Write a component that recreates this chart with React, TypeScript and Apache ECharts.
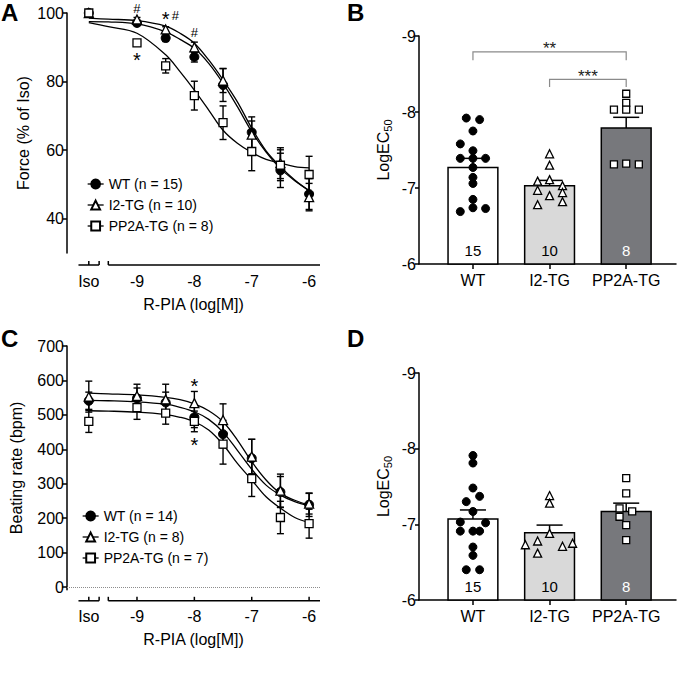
import React, { useEffect, useRef } from 'react';
import * as echarts from 'echarts';

const FONT = '"Liberation Sans", Arial, Helvetica, sans-serif';
const BLACK = '#000000';

// ---------- shared ----------
const GROUPS = ['WT', 'I2-TG', 'PP2A-TG'];
const ISO_X = -9.84;
const DOSES = [ISO_X, -9, -8.5, -8, -7.5, -7, -6.5, -6];
const X_TICKS = [ISO_X, -9, -8, -7, -6];
const X_TICK_LABELS = ['Iso', '-9', '-8', '-7', '-6'];
const X_SEGMENTS = [[-10.02, -9.66], [-9.5, -5.81]];
const CURVE_X = [-9.84, -9.5, -9, -8.5, -8.25, -8, -7.75, -7.5, -7.25, -7, -6.75, -6.5, -6.25, -6];

// ---------- panel A : force ----------
const A_LEGEND = ['WT (n = 15)', 'I2-TG (n = 10)', 'PP2A-TG (n = 8)'];
const A_WT_MEAN = [100, 97.1, 92.7, 87.2, 79.0, 65.2, 54.1, 47.2];
const A_WT_SEM = [0, 0.8, 1.0, 1.5, 4.8, 4.5, 5.0, 4.5];
const A_I2_MEAN = [100, 98.1, 95.2, 90.0, 80.3, 64.5, 56.2, 46.3];
const A_I2_SEM = [0, 0.6, 0.8, 1.5, 3.5, 4.0, 4.5, 4.0];
const A_PP_MEAN = [100, 91.3, 84.6, 75.9, 68.0, 59.6, 55.6, 52.9];
const A_PP_SEM = [0, 0.8, 2.1, 4.2, 4.9, 5.6, 4.5, 5.3];
const A_WT_FIT = [97.5, 97.4, 96.8, 94.5, 92.3, 89.7, 85.3, 79.5, 72.7, 65.4, 59.4, 54.6, 51.1, 48.2];
const A_I2_FIT = [98.5, 98.2, 97.8, 96.2, 94.1, 91.2, 86.3, 80.5, 74.1, 66.4, 59.8, 55.2, 51.3, 48.2];
const A_PP_FIT = [97.2, 96.0, 94.1, 87.8, 82.9, 77.5, 71.7, 65.8, 62.0, 59.3, 57.3, 56.2, 55.2, 54.8];
const A_MARKS = [
  { x: -9, y: 101.4, text: '#' },
  { x: -8.5, y: 99.6, text: '*' },
  { x: -8.33, y: 99.4, text: '#' },
  { x: -8, y: 94.3, text: '#' },
  { x: -9, y: 87.7, text: '*' },
];
const A_Y_MIN = 30;
const A_Y_MAX = 100;
const A_Y_TICKS = [40, 60, 80, 100];
const A_X_TICKS = [ISO_X, -9.66, -9.5];

// ---------- panel C : beating rate ----------
const C_LEGEND = ['WT (n = 14)', 'I2-TG (n = 8)', 'PP2A-TG (n = 7)'];
const C_WT_MEAN = [541, 548, 536, 493, 444, 374, 276, 239];
const C_WT_SEM = [25, 30, 30, 30, 40, 55, 45, 34];
const C_I2_MEAN = [553, 555, 545, 534, 485, 379, 280, 242];
const C_I2_SEM = [45, 34, 44, 34, 47, 50, 48, 30];
const C_PP_MEAN = [481, 521, 505, 481, 415, 315, 202, 184];
const C_PP_SEM = [32, 34, 32, 30, 58, 52, 47, 42];
const C_WT_FIT = [542, 541, 538, 531, 522, 509, 487, 450, 397, 342, 296, 267, 248, 236];
const C_I2_FIT = [563, 561, 558, 551, 544, 532, 512, 480, 427, 364, 311, 272, 252, 238];
const C_PP_FIT = [512, 511, 508, 501, 493, 480, 456, 414, 359, 311, 262, 229, 202, 187];
const C_MARKS = [
  { x: -8, y: 598, text: '*' },
  { x: -8, y: 427, text: '*' },
];
const C_Y_MIN = -8;
const C_Y_MAX = 700;
const C_Y_TICKS = [0, 100, 200, 300, 400, 500, 600, 700];
const C_X_TICKS = [ISO_X, -9.66, -9.5, -9, -8, -7, -6];

// ---------- panel B : LogEC50 force ----------
const B_MEAN = [-7.27, -7.03, -7.79];
const B_SEM = [0.12, 0.07, 0.14];
const B_N = ['15', '10', '8'];
const B_WT_PTS = [
  [-0.087, -7.92], [0.087, -7.9], [0, -7.75], [-0.165, -7.58], [0, -7.49],
  [-0.165, -7.39], [0, -7.39], [0.165, -7.39], [0, -7.27], [0, -7.14],
  [0, -7.06], [0, -6.85], [0, -6.74], [0.165, -6.73], [-0.165, -6.69],
];
const B_I2_PTS = [
  [0, -7.45], [0, -7.3], [-0.156, -7.09], [0, -7.11], [0.169, -7.03],
  [-0.156, -6.97], [0, -6.9], [0.169, -6.94], [-0.156, -6.78], [0.169, -6.82],
];
const B_PP_PTS = [
  [0, -8.24], [0, -8.12], [-0.16, -8.03], [0, -8.03], [0.165, -8.03],
  [-0.16, -7.31], [0, -7.32], [0.165, -7.31],
];
const B_BRACKETS = [
  { from: 0, to: 2, y: -8.79, drop: -8.68, label: '**' },
  { from: 1, to: 2, y: -8.43, drop: -8.33, label: '***' },
];

// ---------- panel D : LogEC50 beating rate ----------
const D_MEAN = [-7.07, -6.89, -7.17];
const D_SEM = [0.12, 0.1, 0.11];
const D_N = ['15', '10', '8'];
const D_WT_PTS = [
  [0, -7.91], [0, -7.81], [0, -7.48], [-0.087, -7.3], [0.087, -7.37],
  [0, -7.17], [-0.165, -7.03], [0.165, -7.02], [-0.165, -6.91], [0, -6.91],
  [0.087, -6.91], [0, -6.7], [0, -6.59], [-0.087, -6.4], [0.087, -6.4],
];
const D_I2_PTS = [
  [0, -7.38], [0, -7.28], [0, -6.88], [-0.156, -6.78], [0.169, -6.71],
  [-0.316, -6.73], [0.3, -6.75], [-0.156, -6.62],
];
const D_PP_PTS = [
  [0, -7.61], [0, -7.41], [-0.087, -7.21], [0.078, -7.17], [-0.087, -7.1],
  [0, -6.99], [0, -6.79],
];
const LOG_MIN = -9;
const LOG_MAX = -6;

// ---------- styles ----------
const BAR_FILLS = ['#ffffff', '#d9d9d9', '#77787c'];
const N_COLORS = ['#000000', '#000000', '#ffffff'];
const OPEN = { color: '#ffffff', borderColor: BLACK, borderWidth: 1.3, opacity: 1 };
const FILLED = { color: BLACK, borderColor: BLACK, borderWidth: 1, opacity: 1 };
const SYMBOLS = ['circle', 'triangle', 'rect'];
const SYMBOL_STYLES = [FILLED, OPEN, OPEN];
const CURVE_SYMBOL_SIZES = [9, 9, 8];
const DOT_SYMBOL_SIZES = [8, 8, 7];
const STAR_SIZE = 20;
const HASH_SIZE = 13;

const axisLine = { show: true, onZero: false, lineStyle: { color: BLACK, width: 1.5 } };
const labelStyle = { color: BLACK, fontSize: 16, fontFamily: FONT };

function doseLabel(v: number) {
  const i = X_TICKS.findIndex((t) => Math.abs(t - v) < 1e-6);
  return i >= 0 ? X_TICK_LABELS[i] : '';
}

function doseXAxis(gridIndex: number, offset: number) {
  return {
    type: 'value', gridIndex, min: -10.22, max: -5.81, offset,
    axisLine: { show: false, onZero: false },
    axisTick: { show: false },
    splitLine: { show: false },
    axisLabel: { ...labelStyle, margin: 8, customValues: X_TICKS, formatter: doseLabel },
    name: 'R-PIA (log[M])', nameLocation: 'middle', nameGap: 31,
    nameTextStyle: { ...labelStyle },
  };
}

function groupXAxis(gridIndex: number) {
  return {
    type: 'value', gridIndex, min: -0.704, max: 2.65,
    axisLine,
    axisTick: { show: true, customValues: [0, 1, 2], length: 5, lineStyle: { color: BLACK, width: 1.5 } },
    splitLine: { show: false },
    axisLabel: { ...labelStyle, margin: 8, customValues: [0, 1, 2], formatter: (v: number) => GROUPS[Math.round(v)] },
  };
}

function logYAxis(gridIndex: number) {
  return {
    type: 'value', gridIndex, min: LOG_MIN, max: LOG_MAX, interval: 1, inverse: true,
    axisLine,
    axisTick: { show: true, length: 4, lineStyle: { color: BLACK, width: 1.5 } },
    splitLine: { show: false },
    axisLabel: { ...labelStyle, margin: 3 },
    name: '{a|LogEC}{b|50}', nameLocation: 'middle', nameGap: 26,
    nameTextStyle: {
      rich: {
        a: { fontSize: 16, fontFamily: FONT, color: BLACK },
        b: { fontSize: 11, fontFamily: FONT, color: BLACK, padding: [9, 0, 0, 0] },
      },
    },
  };
}

function errorSeries(xi: number, groups: number[][][]) {
  const data: number[][] = [];
  groups.forEach(([means, sems]) => means.forEach((m, i) => data.push([DOSES[i], m, sems[i]])));
  return {
    type: 'custom', xAxisIndex: xi, yAxisIndex: xi, z: 3, silent: true, data,
    renderItem: (_p: any, api: any) => {
      const x = api.value(0), m = api.value(1), s = api.value(2);
      if (!s) return { type: 'group', children: [] };
      const t = api.coord([x, m + s]);
      const b = api.coord([x, m - s]);
      const st = { stroke: BLACK, lineWidth: 1.4 };
      return {
        type: 'group',
        children: [
          { type: 'line', shape: { x1: t[0], y1: t[1], x2: b[0], y2: b[1] }, style: st },
          { type: 'line', shape: { x1: t[0] - 3.5, y1: t[1], x2: t[0] + 3.5, y2: t[1] }, style: st },
          { type: 'line', shape: { x1: b[0] - 3.5, y1: b[1], x2: b[0] + 3.5, y2: b[1] }, style: st },
        ],
      };
    },
  };
}

function fitSeries(xi: number, name: string, fit: number[], extra: any = {}) {
  return {
    type: 'line', name, xAxisIndex: xi, yAxisIndex: xi, smooth: 0.35, symbol: 'none', silent: true, z: 2,
    data: CURVE_X.map((x, i) => [x, fit[i]]),
    lineStyle: { color: BLACK, width: 1.3 },
    ...extra,
  };
}

function pointSeries(xi: number, name: string, g: number, means: number[]) {
  return {
    type: 'line', name, xAxisIndex: xi, yAxisIndex: xi, silent: true, z: 5,
    symbol: SYMBOLS[g], symbolSize: CURVE_SYMBOL_SIZES[g], showSymbol: true, showAllSymbol: true,
    data: DOSES.map((x, i) => [x, means[i]]),
    lineStyle: { opacity: 0, width: 0 },
    itemStyle: SYMBOL_STYLES[g],
  };
}

function marksSeries(xi: number, marks: { x: number; y: number; text: string }[]) {
  return {
    type: 'custom', xAxisIndex: xi, yAxisIndex: xi, z: 6, silent: true,
    data: marks.map((m) => [m.x, m.y]),
    renderItem: (p: any, api: any) => {
      const c = api.coord([api.value(0), api.value(1)]);
      const text = marks[p.dataIndex].text;
      const star = text === '*';
      const size = star ? STAR_SIZE : HASH_SIZE;
      return {
        type: 'text',
        style: {
          text, x: c[0], y: c[1] + (star ? size * 0.24 : 0), align: 'center', verticalAlign: 'middle',
          fontSize: size, fontFamily: FONT, fill: BLACK,
        },
      };
    },
  };
}

function axisDecorSeries(xi: number, yBase: number, offset: number, ticks: number[]) {
  const data = [...X_SEGMENTS.map((s) => [s[0], s[1], 0]), ...ticks.map((t) => [t, t, 1])];
  return {
    type: 'custom', xAxisIndex: xi, yAxisIndex: xi, z: 1, silent: true, clip: false, data,
    renderItem: (_p: any, api: any) => {
      const a = api.coord([api.value(0), yBase]);
      const b = api.coord([api.value(1), yBase]);
      const y = a[1] + offset;
      const st = { stroke: BLACK, lineWidth: 1.5 };
      if (api.value(2) === 0) {
        return { type: 'line', shape: { x1: a[0], y1: y, x2: b[0], y2: y }, style: st };
      }
      return { type: 'line', shape: { x1: a[0], y1: y, x2: a[0], y2: y - 4 }, style: st };
    },
  };
}

function barSeries(xi: number, means: number[], sems: number[], ns: string[]) {
  return {
    type: 'custom', xAxisIndex: xi, yAxisIndex: xi, z: 2, silent: true,
    data: means.map((m, i) => [i, m, sems[i]]),
    renderItem: (p: any, api: any) => {
      const i = api.value(0), m = api.value(1), s = api.value(2);
      const top = api.coord([i, m]);
      const base = api.coord([i, LOG_MAX]);
      const semTop = api.coord([i, m - s]);
      const w = api.size([0.65, 0])[0];
      const cap = api.size([0.34, 0])[0];
      const st = { stroke: BLACK, lineWidth: 1.5 };
      return {
        type: 'group',
        children: [
          { type: 'line', shape: { x1: top[0], y1: top[1], x2: top[0], y2: semTop[1] }, style: st },
          { type: 'line', shape: { x1: top[0] - cap / 2, y1: semTop[1], x2: top[0] + cap / 2, y2: semTop[1] }, style: st },
          {
            type: 'rect', shape: { x: top[0] - w / 2, y: top[1], width: w, height: base[1] - top[1] },
            style: { fill: BAR_FILLS[p.dataIndex], stroke: BLACK, lineWidth: 1.5 },
          },
          {
            type: 'text',
            style: {
              text: ns[p.dataIndex], x: top[0], y: base[1] - 14, align: 'center', verticalAlign: 'middle',
              fontSize: 15, fontFamily: FONT, fill: N_COLORS[p.dataIndex],
            },
          },
        ],
      };
    },
  };
}

function dotSeries(xi: number, g: number, pts: number[][]) {
  return {
    type: 'scatter', xAxisIndex: xi, yAxisIndex: xi, z: 5, silent: true,
    symbol: SYMBOLS[g], symbolSize: DOT_SYMBOL_SIZES[g], itemStyle: SYMBOL_STYLES[g],
    data: pts.map((p) => [g + p[0], p[1]]),
  };
}

function bracketSeries(xi: number) {
  return {
    type: 'custom', xAxisIndex: xi, yAxisIndex: xi, z: 4, silent: true, clip: false,
    data: B_BRACKETS.map((b) => [b.from, b.y, b.to, b.drop]),
    renderItem: (p: any, api: any) => {
      const a0 = api.coord([api.value(0), api.value(3)]);
      const a1 = api.coord([api.value(0), api.value(1)]);
      const b1 = api.coord([api.value(2), api.value(1)]);
      const b0 = api.coord([api.value(2), api.value(3)]);
      return {
        type: 'group',
        children: [
          {
            type: 'polyline', shape: { points: [a0, a1, b1, b0] },
            style: { stroke: '#8a8a8a', lineWidth: 1.2, fill: 'none' },
          },
          {
            type: 'text',
            style: {
              text: B_BRACKETS[p.dataIndex].label, x: (a1[0] + b1[0]) / 2, y: a1[1] - 3,
              align: 'center', verticalAlign: 'middle', fontSize: 17, fontFamily: FONT, fill: '#222222',
            },
          },
        ],
      };
    },
  };
}

function legend(left: number, top: number, data: string[]) {
  return {
    orient: 'vertical', left, top, itemWidth: 16, itemHeight: 11, itemGap: 7, selectedMode: false,
    textStyle: { fontSize: 14, fontFamily: FONT, color: BLACK },
    lineStyle: { color: BLACK, width: 1.3, opacity: 1, type: 'solid' },
    data,
  };
}

function panelLetter(text: string, x: number, y: number) {
  return {
    type: 'text', x, y,
    style: { text, fontSize: 24, fontWeight: 'bold', fontFamily: FONT, fill: BLACK, verticalAlign: 'top' },
  };
}

function buildOption() {
  const grids = [
    { left: 67, top: 13, width: 253, height: 240 },
    { left: 419, top: 36, width: 257, height: 228 },
    { left: 67, top: 346, width: 253, height: 243.8 },
    { left: 419, top: 373, width: 257, height: 227 },
  ].map((g) => ({ ...g, containLabel: false, outerBoundsMode: 'none' }));

  const yA = {
    type: 'value', gridIndex: 0, min: A_Y_MIN, max: A_Y_MAX,
    axisLine,
    axisTick: { show: true, length: 4, customValues: A_Y_TICKS, lineStyle: { color: BLACK, width: 1.5 } },
    axisLabel: { ...labelStyle, margin: 3, customValues: A_Y_TICKS },
    splitLine: { show: false },
    name: 'Force (% of Iso)', nameLocation: 'middle', nameGap: 36, nameTextStyle: { ...labelStyle },
  };
  const yC = {
    type: 'value', gridIndex: 2, min: C_Y_MIN, max: C_Y_MAX,
    axisLine,
    axisTick: { show: true, length: 5, customValues: C_Y_TICKS, lineStyle: { color: BLACK, width: 1.5 } },
    axisLabel: { ...labelStyle, margin: 3, customValues: C_Y_TICKS },
    splitLine: { show: false },
    name: 'Beating rate (bpm)', nameLocation: 'middle', nameGap: 43, nameTextStyle: { ...labelStyle },
  };

  const series: any[] = [
    // A
    axisDecorSeries(0, A_Y_MIN, 12, A_X_TICKS),
    fitSeries(0, 'A WT fit', A_WT_FIT),
    fitSeries(0, 'A I2 fit', A_I2_FIT),
    fitSeries(0, 'A PP fit', A_PP_FIT),
    errorSeries(0, [[A_WT_MEAN, A_WT_SEM], [A_I2_MEAN, A_I2_SEM], [A_PP_MEAN, A_PP_SEM]]),
    pointSeries(0, A_LEGEND[0], 0, A_WT_MEAN),
    pointSeries(0, A_LEGEND[1], 1, A_I2_MEAN),
    pointSeries(0, A_LEGEND[2], 2, A_PP_MEAN),
    marksSeries(0, A_MARKS),
    // B
    barSeries(1, B_MEAN, B_SEM, B_N),
    dotSeries(1, 0, B_WT_PTS),
    dotSeries(1, 1, B_I2_PTS),
    dotSeries(1, 2, B_PP_PTS),
    bracketSeries(1),
    // C
    axisDecorSeries(2, C_Y_MIN, 11, C_X_TICKS),
    fitSeries(2, 'C WT fit', C_WT_FIT, {
      markLine: {
        silent: true, symbol: ['none', 'none'], label: { show: false },
        lineStyle: { color: '#8c8c8c', type: 'dotted', width: 1 },
        data: [{ yAxis: 0 }],
      },
    }),
    fitSeries(2, 'C I2 fit', C_I2_FIT),
    fitSeries(2, 'C PP fit', C_PP_FIT),
    errorSeries(2, [[C_WT_MEAN, C_WT_SEM], [C_I2_MEAN, C_I2_SEM], [C_PP_MEAN, C_PP_SEM]]),
    pointSeries(2, C_LEGEND[0], 0, C_WT_MEAN),
    pointSeries(2, C_LEGEND[1], 1, C_I2_MEAN),
    pointSeries(2, C_LEGEND[2], 2, C_PP_MEAN),
    marksSeries(2, C_MARKS),
    // D
    barSeries(3, D_MEAN, D_SEM, D_N),
    dotSeries(3, 0, D_WT_PTS),
    dotSeries(3, 1, D_I2_PTS),
    dotSeries(3, 2, D_PP_PTS),
  ];

  return {
    animation: false,
    backgroundColor: '#ffffff',
    textStyle: { fontFamily: FONT, color: BLACK },
    grid: grids,
    xAxis: [doseXAxis(0, 12), groupXAxis(1), doseXAxis(2, 11), groupXAxis(3)],
    yAxis: [yA, logYAxis(1), yC, logYAxis(3)],
    legend: [legend(82, 172, A_LEGEND), legend(77, 504, C_LEGEND)],
    graphic: [
      panelLetter('A', 1, 0),
      panelLetter('B', 347, 0),
      panelLetter('C', 1, 326),
      panelLetter('D', 347, 326),
    ],
    series,
  };
}

export default function App() {
  const ref = useRef<HTMLDivElement>(null);
  useEffect(() => {
    const chart = echarts.init(ref.current as HTMLDivElement, null, { renderer: 'svg' });
    chart.setOption(buildOption() as any);
    return () => chart.dispose();
  }, []);
  return (
    <div
      ref={ref}
      style={{ position: 'absolute', left: 0, top: 0, width: 677, height: 679, background: '#ffffff' }}
    />
  );
}
